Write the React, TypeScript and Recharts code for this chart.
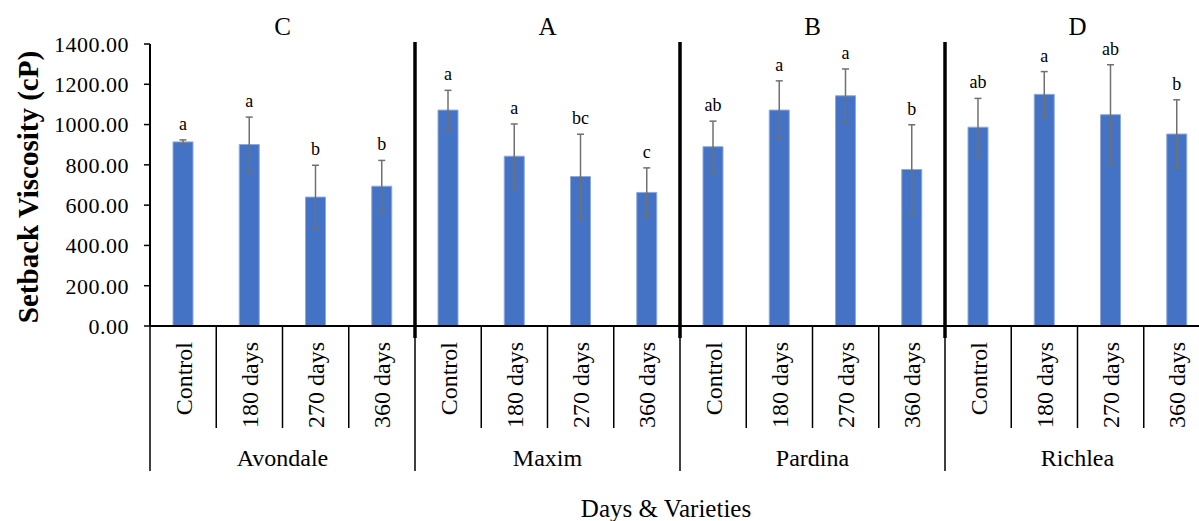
import React from 'react';
import { BarChart, Bar, XAxis, YAxis, ErrorBar, LabelList } from 'recharts';

// varieties and storage times, in chart order
const varieties = ['Avondale', 'Maxim', 'Pardina', 'Richlea'];
const days = ['Control', '180 days', '270 days', '360 days'];
const varietyLetters = ['C', 'A', 'B', 'D'];

// setback viscosity (cP), mean and sd per bar
const setback = [914, 901, 640, 694, 1072, 843, 742, 663, 890, 1072, 1143, 777, 987, 1150, 1049, 953];
const setbackSd = [10, 136, 158, 128, 98, 160, 210, 122, 127, 145, 133, 222, 143, 113, 248, 170];
const sigLetters = ['a', 'a', 'b', 'b', 'a', 'a', 'bc', 'c', 'ab', 'a', 'a', 'b', 'ab', 'a', 'ab', 'b'];

const yTicks = [0, 200, 400, 600, 800, 1000, 1200, 1400];

const data = setback.map((v, i) => ({
  key: `${varieties[Math.floor(i / 4)]}-${days[i % 4]}`,
  day: days[i % 4],
  variety: varieties[Math.floor(i / 4)],
  value: v,
  sd: setbackSd[i],
  letter: sigLetters[i],
}));

const W = 1210;
const H = 521;
const LEFT = 150;
const TOP = 44;
const XAXIS_H = 195;
const PLOT_BOTTOM = H - XAXIS_H;
const BAND = (W - LEFT) / data.length;
const FONT = '"Liberation Serif", "Times New Roman", serif';

const CategoryTick = (props: any) => {
  const { x, payload } = props;
  const i = payload.index;
  const item = data[i];
  const left = x - BAND / 2;
  const groupStart = i % 4 === 0;
  const labelTop = 342;
  return (
    <g>
      {groupStart && i > 0 && (
        <line x1={left} x2={left} y1={TOP - 2} y2={PLOT_BOTTOM + 12} stroke="#000" strokeWidth={3.5} />
      )}
      <line x1={left} x2={left} y1={PLOT_BOTTOM} y2={groupStart ? 471 : 428} stroke="#000" strokeWidth={1.5} />
      <text
        x={x}
        y={labelTop}
        transform={`rotate(-90 ${x} ${labelTop})`}
        textAnchor="end"
        dy="0.35em"
        fill="#000"
        fontSize={24}
        fontFamily={FONT}
      >
        {item.day}
      </text>
      {i % 4 === 1 && (
        <>
          <text x={x + BAND / 2} y={466} textAnchor="middle" fill="#000" fontSize={24} fontFamily={FONT}>
            {item.variety}
          </text>
          <text x={x + BAND / 2} y={35} textAnchor="middle" fill="#000" fontSize={25} fontFamily={FONT}>
            {varietyLetters[Math.floor(i / 4)]}
          </text>
        </>
      )}
    </g>
  );
};

// significance letter sits a bit above the top of the error bar
const renderLetter = (props: any) => {
  const { x, y, width, height, index } = props;
  const d = data[index];
  const pxPerUnit = height / d.value;
  const errTop = y - d.sd * pxPerUnit;
  return (
    <text x={x + width / 2} y={errTop - 10} textAnchor="middle" fill="#000" fontSize={18} fontFamily={FONT}>
      {d.letter}
    </text>
  );
};

const renderYTitle = () => (
  <text
    x={28}
    y={187}
    transform="rotate(-90 28 187)"
    textAnchor="middle"
    dy="0.35em"
    fill="#000"
    fontSize={29}
    fontWeight="bold"
    fontFamily={FONT}
  >
    Setback Viscosity (cP)
  </text>
);

const renderXTitle = () => (
  <text x={666} y={517} textAnchor="middle" fill="#000" fontSize={25} fontFamily={FONT}>
    Days &amp; Varieties
  </text>
);

export default function App() {
  return (
    <div
      style={{
        position: 'fixed',
        left: 0,
        top: 0,
        width: 1199,
        height: 521,
        overflow: 'hidden',
        background: '#fff',
        fontFamily: FONT,
      }}
    >
      <BarChart width={W} height={H} data={data} margin={{ top: TOP, right: 0, bottom: 0, left: 0 }}>
        <YAxis
          domain={[0, 1400]}
          ticks={yTicks}
          interval={0}
          width={LEFT}
          tickFormatter={(v: number) => v.toFixed(2)}
          axisLine={{ stroke: '#000', strokeWidth: 2 }}
          tickLine={{ stroke: '#000', strokeWidth: 1.5 }}
          tickSize={6}
          tickMargin={15}
          tick={{ fill: '#000', fontSize: 22, fontFamily: FONT, letterSpacing: 0.5 }}
          label={{ content: renderYTitle }}
        />
        <XAxis
          dataKey="key"
          interval={0}
          height={XAXIS_H}
          axisLine={{ stroke: '#000', strokeWidth: 2 }}
          tickLine={false}
          tick={(p: any) => <CategoryTick {...p} />}
          label={{ content: renderXTitle }}
        />
        <Bar dataKey="value" fill="#4472C4" stroke="#8eaadb" strokeWidth={1} barSize={20} isAnimationActive={false}>
          <ErrorBar dataKey="sd" width={3.5} stroke="#707070" strokeWidth={1.5} isAnimationActive={false} />
          <LabelList dataKey="letter" content={renderLetter} />
        </Bar>
      </BarChart>
    </div>
  );
}
